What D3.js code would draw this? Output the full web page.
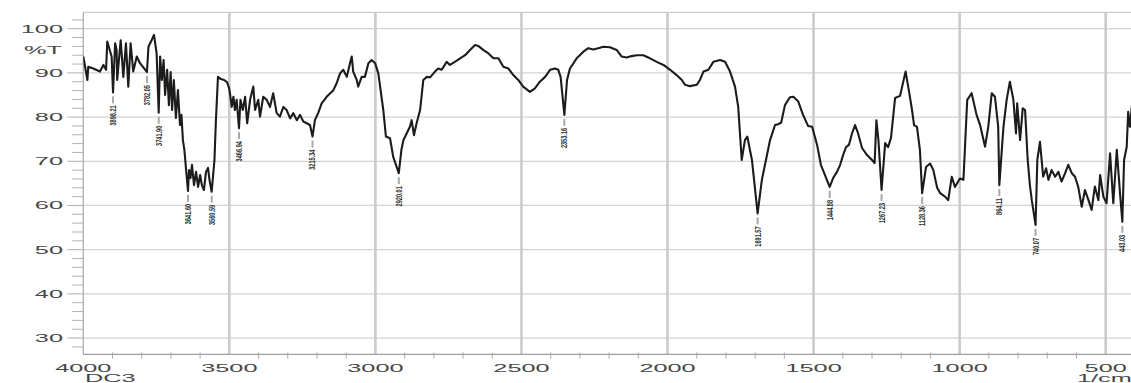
<!DOCTYPE html>
<html>
<head>
<meta charset="utf-8">
<script src="https://cdn.jsdelivr.net/npm/d3@7"></script>
<style>
  html, body { margin: 0; padding: 0; background: #fff; }
  svg { display: block; }
</style>
</head>
<body>
<svg id="chart" width="1131" height="383"></svg>
<script>
// IR spectrum of sample DC3: wavenumber (1/cm) vs transmittance (%T)
const wavenumbers = [
  4000, 3986, 3983, 3966, 3943, 3931, 3922, 3918, 3903, 3898.21, 3891, 3886, 3884, 3872, 3863, 3854,
  3846, 3838, 3829, 3817, 3806, 3782.05, 3777, 3766, 3758, 3749, 3741.90, 3737, 3731, 3725, 3720, 3713,
  3707, 3701, 3696, 3690, 3683, 3676, 3669, 3664, 3659, 3654, 3648, 3641.60, 3638, 3633, 3628, 3621,
  3614, 3607, 3600, 3594, 3587, 3580, 3573, 3568, 3560.59, 3554, 3551, 3546, 3539, 3529, 3518, 3508,
  3501, 3498, 3492, 3486, 3481, 3475, 3466.94, 3462, 3454, 3446, 3439, 3429, 3418, 3412, 3401, 3395,
  3384, 3372, 3361, 3350, 3338, 3327, 3315, 3304, 3292, 3281, 3269, 3258, 3247, 3235, 3224, 3215.34,
  3207, 3196, 3184, 3167, 3144, 3133, 3121, 3110, 3098, 3087, 3081, 3076, 3064, 3059, 3047, 3036,
  3024, 3013, 3001, 2990, 2973, 2964, 2950, 2939, 2920.01, 2911, 2904, 2893, 2882, 2876, 2868, 2859,
  2847, 2836, 2824, 2813, 2796, 2785, 2773, 2756, 2745, 2728, 2710, 2693, 2676, 2659, 2648, 2631,
  2613, 2596, 2579, 2562, 2545, 2528, 2511, 2494, 2471, 2454, 2437, 2419, 2402, 2385, 2374, 2366,
  2353.16, 2344, 2334, 2311, 2288, 2271, 2254, 2237, 2220, 2197, 2174, 2157, 2140, 2123, 2105, 2083,
  2060, 2037, 2014, 1991, 1969, 1951, 1940, 1923, 1900, 1889, 1877, 1860, 1843, 1820, 1803, 1786,
  1769, 1758, 1746, 1735, 1727, 1711, 1691.57, 1677, 1663, 1649, 1632, 1622, 1611, 1598, 1581, 1569,
  1553, 1536, 1519, 1505, 1488, 1475, 1444.88, 1433, 1420, 1409, 1399, 1389, 1379, 1368, 1358, 1348,
  1334, 1317, 1300, 1291, 1285, 1278, 1267.23, 1255, 1245, 1235, 1221, 1204, 1185, 1173, 1163, 1156,
  1146, 1136, 1128.36, 1115, 1101, 1090, 1077, 1067, 1050, 1039, 1027, 1016, 999, 987, 974, 959,
  942, 930, 913, 902, 890, 879, 868, 864.11, 850, 839, 828, 816, 807, 803, 793, 784,
  776, 767, 759, 753, 740.07, 734, 725, 714, 704, 696, 685, 673, 662, 651, 639, 628,
  616, 605, 594, 582, 571, 559, 548, 537, 525, 519, 508, 497, 485, 474, 462, 451,
  443.03, 437, 428, 423, 417, 410
];
const transmittance = [
  93.7, 88.4, 91.4, 91.0, 90.3, 91.8, 90.7, 97.1, 93.7, 85.6, 96.7, 95.2, 88.4, 97.4, 89.1, 96.7,
  86.9, 96.7, 90.3, 93.7, 92.2, 90.2, 95.9, 97.4, 98.6, 94.4, 81.0, 93.7, 88.4, 92.9, 85.0, 90.7,
  82.7, 90.2, 81.6, 88.4, 79.8, 86.1, 78.2, 80.5, 74.8, 72.6, 68.0, 63.3, 68.0, 66.2, 69.2, 64.6,
  67.6, 64.2, 66.9, 64.6, 63.5, 67.6, 68.5, 65.8, 63.1, 68.0, 70.3, 79.3, 89.1, 88.6, 88.4, 87.9,
  86.6, 85.4, 82.3, 84.6, 81.6, 83.9, 77.5, 83.9, 81.6, 84.6, 78.6, 83.9, 86.9, 81.6, 83.9, 80.1,
  84.6, 83.9, 82.3, 85.4, 80.9, 80.1, 82.3, 81.6, 79.7, 80.9, 79.3, 80.5, 79.0, 78.6, 78.2, 75.6,
  79.3, 80.9, 83.1, 84.6, 86.1, 87.6, 89.9, 90.7, 89.1, 92.2, 93.7, 90.3, 88.4, 86.9, 89.1, 89.1,
  92.2, 92.9, 92.2, 89.9, 81.6, 75.6, 75.2, 71.0, 67.3, 72.6, 74.8, 76.3, 77.8, 79.3, 75.9, 78.6,
  81.6, 88.4, 89.1, 89.0, 90.3, 91.0, 90.7, 92.5, 91.8, 92.5, 93.3, 94.0, 95.2, 96.3, 96.1, 95.2,
  94.4, 93.3, 93.3, 91.4, 91.0, 89.5, 88.4, 86.9, 85.7, 86.5, 88.0, 89.1, 90.7, 91.0, 90.7, 89.1,
  80.5, 88.4, 91.0, 93.3, 94.8, 95.6, 95.3, 95.6, 95.9, 95.8, 95.2, 93.7, 93.5, 93.8, 94.0, 94.0,
  93.3, 92.5, 91.8, 90.7, 89.5, 88.4, 87.3, 87.0, 87.3, 88.4, 90.3, 90.7, 92.5, 92.9, 92.5, 90.3,
  86.9, 82.3, 70.3, 74.8, 75.6, 70.3, 58.2, 65.8, 70.3, 74.8, 78.2, 78.4, 78.7, 82.7, 84.5, 84.6,
  83.6, 80.5, 78.0, 77.8, 73.7, 69.2, 64.2, 66.2, 67.6, 69.2, 71.4, 73.2, 73.7, 76.4, 78.2, 76.4,
  73.0, 71.4, 70.3, 69.6, 79.3, 74.8, 63.5, 74.1, 73.2, 75.3, 84.3, 84.8, 90.3, 85.7, 81.6, 78.2,
  77.8, 72.6, 62.8, 68.7, 69.5, 68.0, 64.0, 62.8, 62.0, 61.2, 66.5, 64.2, 66.1, 65.8, 83.9, 85.4,
  80.5, 78.2, 73.3, 77.8, 85.4, 84.6, 77.8, 64.6, 77.8, 83.9, 88.0, 83.9, 76.3, 83.1, 74.8, 82.0,
  81.6, 70.3, 64.3, 61.2, 55.6, 70.3, 74.4, 66.5, 68.4, 65.8, 68.0, 66.5, 67.6, 65.4, 67.3, 69.2,
  67.3, 66.5, 64.2, 59.7, 63.5, 61.2, 59.0, 64.3, 61.2, 66.9, 62.0, 60.5, 71.8, 60.5, 72.6, 62.8,
  56.3, 70.3, 73.3, 81.2, 77.8, 82.7
];

// Labelled absorption peaks
const peakWavenumbers = [
  3898.21, 3782.05, 3741.90, 3641.60, 3560.59, 3466.94, 3215.34, 2920.01,
  2353.16, 1691.57, 1444.88, 1267.23, 1128.36, 864.11, 740.07, 443.03
];
const peakTransmittance = [
  85.6, 90.2, 81.0, 63.3, 63.1, 77.5, 75.6, 67.3,
  80.5, 58.2, 64.2, 63.5, 62.8, 64.6, 55.6, 56.3
];

const xTickValues = [4000, 3500, 3000, 2500, 2000, 1500, 1000, 500];
const yTickValues = [30, 40, 50, 60, 70, 80, 90, 100];
const xUnitLabel = "1/cm";
const yUnitLabel = "%T";
const sampleName = "DC3";

const plot = { left: 83.3, right: 1134.9, top: 12.35, bottom: 354.4 };

const x = d3.scaleLinear().domain([4000, 400]).range([plot.left, plot.right]);
const y = d3.scaleLinear().domain([26.3, 103.7]).range([plot.bottom, plot.top]);

const svg = d3.select("#chart");
const FONT = "'Liberation Sans', Arial, sans-serif";
const WIDE = 2.3;   // horizontal stretch of the axis lettering

// horizontal grid
svg.append("g").selectAll("line").data(yTickValues).join("line")
  .attr("x1", plot.left).attr("x2", plot.right)
  .attr("y1", d => y(d)).attr("y2", d => y(d))
  .attr("stroke", "#d4d4d4").attr("stroke-width", 1.2);

// top frame
svg.append("line")
  .attr("x1", plot.left).attr("x2", plot.right)
  .attr("y1", plot.top).attr("y2", plot.top)
  .attr("stroke", "#cfcfcf").attr("stroke-width", 1.2);

// vertical grid every 500 1/cm
svg.append("g").selectAll("line").data(xTickValues.filter(d => d !== 4000)).join("line")
  .attr("x1", d => x(d)).attr("x2", d => x(d))
  .attr("y1", plot.top).attr("y2", plot.bottom)
  .attr("stroke", "#cbcbcb").attr("stroke-width", 2.6);

// left and bottom axis lines
svg.append("line")
  .attr("x1", plot.left).attr("x2", plot.left)
  .attr("y1", plot.top).attr("y2", plot.bottom)
  .attr("stroke", "#a8a8a8").attr("stroke-width", 1.2);
svg.append("line")
  .attr("x1", plot.left).attr("x2", plot.right)
  .attr("y1", plot.bottom).attr("y2", plot.bottom)
  .attr("stroke", "#a0a0a0").attr("stroke-width", 1.2);

// y ticks every 2 %T
svg.append("g").selectAll("line").data(d3.range(28, 103, 2)).join("line")
  .attr("x1", d => plot.left - (d % 10 === 0 ? 16 : 11)).attr("x2", plot.left)
  .attr("y1", d => y(d)).attr("y2", d => y(d))
  .attr("stroke", "#b0b0b0").attr("stroke-width", 1);

// x minor ticks every 100 1/cm
svg.append("g").selectAll("line")
  .data(d3.range(3900, 400, -100).filter(d => d % 500 !== 0)).join("line")
  .attr("x1", d => x(d)).attr("x2", d => x(d))
  .attr("y1", plot.bottom - 2).attr("y2", plot.bottom + 4)
  .attr("stroke", "#a8a8a8").attr("stroke-width", 1);

// axis lettering
function wideText(sel, tx, ty, anchor) {
  return sel.attr("transform", `translate(${tx},${ty}) scale(${WIDE},1)`)
    .attr("text-anchor", anchor)
    .attr("font-family", FONT).attr("font-size", 11)
    .attr("fill", "#474747");
}

svg.append("g").selectAll("text").data(yTickValues).join("text")
  .text(d => d)
  .each(function (d) { wideText(d3.select(this), 63, y(d) + 4, "end"); });

wideText(svg.append("text").text(yUnitLabel), 62, 54, "end");

svg.append("g").selectAll("text").data(xTickValues).join("text")
  .text(d => d)
  .each(function (d) { wideText(d3.select(this), x(d), 371.5, "middle"); });

wideText(svg.append("text").text(sampleName), 85, 382, "start");
wideText(svg.append("text").text(xUnitLabel), 1077, 382, "start");

// spectrum trace
svg.append("clipPath").attr("id", "plotClip")
  .append("rect")
  .attr("x", plot.left).attr("y", plot.top)
  .attr("width", plot.right - plot.left).attr("height", plot.bottom - plot.top);

const spectrum = wavenumbers.map((w, i) => ({ w, t: transmittance[i] }));
const line = d3.line().x(d => x(d.w)).y(d => y(d.t));

svg.append("path")
  .datum(spectrum)
  .attr("clip-path", "url(#plotClip)")
  .attr("d", line)
  .attr("fill", "none")
  .attr("stroke", "#1c1c1c")
  .attr("stroke-width", 2.1)
  .attr("stroke-linejoin", "round");

// peak markers: leader line plus vertical wavenumber label
const peaks = peakWavenumbers.map((w, i) => ({ w, t: peakTransmittance[i] }));
const pg = svg.append("g");
pg.selectAll("line").data(peaks).join("line")
  .attr("x1", d => x(d.w)).attr("x2", d => x(d.w))
  .attr("y1", d => y(d.t) + 4).attr("y2", d => y(d.t) + 11)
  .attr("stroke", "#a9a9a9").attr("stroke-width", 2);
pg.selectAll("text").data(peaks).join("text")
  .text(d => d.w.toFixed(2))
  .attr("transform", d => `translate(${x(d.w)},${y(d.t) + 13}) rotate(-90) scale(0.66,1)`)
  .attr("text-anchor", "end")
  .attr("dy", "0.35em")
  .attr("font-family", FONT).attr("font-size", 8.5).attr("font-weight", "bold")
  .attr("fill", "#2e2e2e");
</script>
</body>
</html>
